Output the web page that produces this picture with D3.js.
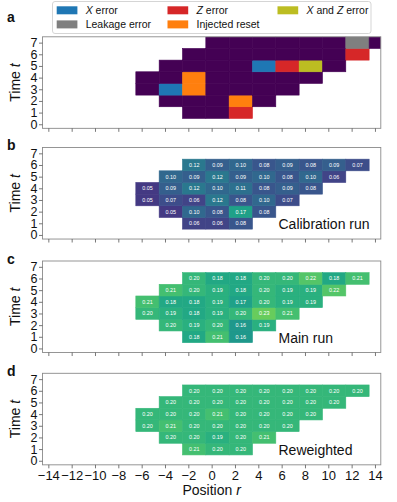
<!DOCTYPE html>
<html><head><meta charset="utf-8">
<script src="https://cdn.jsdelivr.net/npm/d3@7"></script>
<style>body{margin:0;background:#fff}svg{display:block;font-family:"Liberation Sans",Arial,sans-serif}</style>
</head><body>
<svg id="c" width="397" height="502"></svg>
<script>
// ---- data ----
const timesBase = [1, 2, 3, 4, 5, 6];
const rowStart = {1: -2, 2: -4, 3: -6, 4: -6, 5: -4, 6: -2, 7: 0};
const rowCount = {1: 3, 2: 5, 3: 7, 4: 8, 5: 8, 6: 8, 7: 8};
const calib = {
  6: [0.12, 0.09, 0.10, 0.08, 0.09, 0.08, 0.09, 0.07],
  5: [0.10, 0.09, 0.12, 0.09, 0.10, 0.08, 0.10, 0.06],
  4: [0.05, 0.09, 0.12, 0.10, 0.11, 0.08, 0.09, 0.08],
  3: [0.05, 0.07, 0.06, 0.12, 0.08, 0.10, 0.07],
  2: [0.05, 0.10, 0.08, 0.17, 0.08],
  1: [0.06, 0.06, 0.08]
};
const mainRun = {
  6: [0.20, 0.18, 0.18, 0.20, 0.20, 0.22, 0.18, 0.21],
  5: [0.21, 0.20, 0.19, 0.18, 0.20, 0.19, 0.19, 0.22],
  4: [0.21, 0.18, 0.18, 0.19, 0.17, 0.20, 0.19, 0.19],
  3: [0.20, 0.19, 0.18, 0.19, 0.20, 0.23, 0.21],
  2: [0.20, 0.19, 0.20, 0.16, 0.19],
  1: [0.18, 0.21, 0.16]
};
const reweighted = {
  6: [0.20, 0.20, 0.20, 0.20, 0.20, 0.20, 0.20, 0.20],
  5: [0.20, 0.20, 0.20, 0.20, 0.20, 0.20, 0.20, 0.20],
  4: [0.20, 0.20, 0.20, 0.21, 0.20, 0.20, 0.20, 0.20],
  3: [0.20, 0.21, 0.20, 0.20, 0.20, 0.20, 0.20],
  2: [0.20, 0.20, 0.19, 0.20, 0.21],
  1: [0.21, 0.20, 0.20]
};
const eventsA = [
  {t: 1, r: 2, type: "Z"}, {t: 2, r: 2, type: "reset"}, {t: 3, r: -4, type: "X"},
  {t: 3, r: -2, type: "reset"}, {t: 4, r: -2, type: "reset"}, {t: 5, r: 4, type: "X"},
  {t: 5, r: 6, type: "Z"}, {t: 5, r: 8, type: "XZ"}, {t: 6, r: 12, type: "Z"},
  {t: 7, r: 12, type: "leak"}
];
const xTicks = d3.range(-14, 15, 2);
const yTicks = d3.range(0, 8, 1);

// ---- styles ----
const eventColor = {X: "#1f77b4", Z: "#d62728", XZ: "#bcbd22", leak: "#7f7f7f", reset: "#ff7f0e"};
const svg = d3.select("#c");
const unit = 11.66;
const x = d3.scaleLinear().domain([-14.5, 14.5]).range([42.5, 380.8]);
const color = d3.scaleSequential(d3.interpolateViridis).domain([0, 0.3]);
const panels = [
  {key: "a", top: 36.8}, {key: "b", top: 147.5, data: calib, label: "Calibration run"},
  {key: "c", top: 261, data: mainRun, label: "Main run"},
  {key: "d", top: 373.3, data: reweighted, label: "Reweighted"}
];
const yDom = [-0.35, 7.5];
const H = (yDom[1] - yDom[0]) * unit;

function cellsFor(times, data) {
  const out = [];
  times.forEach(t => {
    for (let k = 0; k < rowCount[t]; k++) {
      out.push({t, r: rowStart[t] + 2 * k, v: data ? data[t][k] : null});
    }
  });
  return out;
}

panels.forEach((p, i) => {
  const y = d3.scaleLinear().domain(yDom).range([p.top + H, p.top]);
  const g = svg.append("g");
  const clipId = "clip" + i;
  svg.append("clipPath").attr("id", clipId).append("rect")
    .attr("x", x.range()[0]).attr("y", p.top).attr("width", x.range()[1] - x.range()[0]).attr("height", H);
  const cg = g.append("g").attr("clip-path", `url(#${clipId})`);
  let cells;
  if (!p.data) {
    cells = cellsFor([1, 2, 3, 4, 5, 6, 7], null);
    const ev = {};
    eventsA.forEach(e => ev[e.t + "_" + e.r] = e.type);
    cells.forEach(c => c.fill = ev[c.t + "_" + c.r] ? eventColor[ev[c.t + "_" + c.r]] : "#440154");
  } else {
    cells = cellsFor(timesBase, p.data);
    cells.forEach(c => c.fill = color(c.v));
  }
  cg.selectAll("rect.cell").data(cells).join("rect")
    .attr("x", d => x(d.r - 0.5)).attr("width", d => x(d.r + 1.5) - x(d.r - 0.5))
    .attr("y", d => y(d.t + 0.5)).attr("height", d => y(d.t - 0.5) - y(d.t + 0.5))
    .attr("fill", d => d.fill)
    .attr("stroke", d => d.fill).attr("stroke-width", 0.6);
  if (p.data) {
    cg.selectAll("text.v").data(cells).join("text")
      .attr("x", d => x(d.r + 0.5)).attr("y", d => y(d.t) + 1.9)
      .attr("text-anchor", "middle").attr("font-size", 5.4).attr("fill", "#fff")
      .text(d => d.v.toFixed(2));
    g.append("text").attr("x", 278.5).attr("y", y(0) - 5.5).attr("font-size", 14).attr("fill", "#111")
      .text(p.label);
  }
  // frame
  g.append("rect").attr("x", x.range()[0]).attr("y", p.top)
    .attr("width", x.range()[1] - x.range()[0]).attr("height", H)
    .attr("fill", "none").attr("stroke", "#8a8a8a").attr("stroke-width", 0.9);
  // y axis
  const ya = d3.axisLeft(y).tickValues(yTicks).tickSize(3.5).tickPadding(1.5).tickFormat(d3.format("d"));
  const yg = g.append("g").attr("transform", `translate(${x.range()[0]},0)`).call(ya);
  yg.select(".domain").remove();
  yg.selectAll("line").attr("stroke", "#555").attr("stroke-width", 0.8);
  yg.selectAll("text").attr("font-size", 12.5).attr("fill", "#111").attr("font-family", "Liberation Sans, Arial, sans-serif");
  // x axis
  const xa = d3.axisBottom(x).tickValues(xTicks).tickSize(3.5).tickPadding(2)
    .tickFormat(i === 3 ? (d => d < 0 ? "\u2212" + Math.abs(d) : String(d)) : "");
  const xg = g.append("g").attr("transform", `translate(0,${p.top + H})`).call(xa);
  xg.select(".domain").remove();
  xg.selectAll("line").attr("stroke", "#555").attr("stroke-width", 0.8);
  xg.selectAll("text").attr("font-size", 13).attr("fill", "#111").attr("font-family", "Liberation Sans, Arial, sans-serif");
  // y title
  const yt = g.append("text").attr("transform", `translate(20,${p.top + H / 2}) rotate(-90)`)
    .attr("text-anchor", "middle").attr("font-size", 14).attr("fill", "#111");
  yt.append("tspan").text("Time ");
  yt.append("tspan").attr("font-style", "italic").text("t");
  // panel letter
  g.append("text").attr("x", 7).attr("y", i === 0 ? 22 : p.top + 2.5)
    .attr("font-size", 14).attr("font-weight", "bold").attr("fill", "#111").text(p.key);
});

// x title
const xt = svg.append("text").attr("x", x(0)).attr("y", 495).attr("text-anchor", "middle")
  .attr("font-size", 14).attr("fill", "#111");
xt.append("tspan").text("Position ");
xt.append("tspan").attr("font-style", "italic").text("r");

// legend
const legendItems = [
  {type: "X", parts: [["X", true], [" error", false]], col: 0, row: 0},
  {type: "Z", parts: [["Z", true], [" error", false]], col: 1, row: 0},
  {type: "XZ", parts: [["X", true], [" and ", false], ["Z", true], [" error", false]], col: 2, row: 0},
  {type: "leak", parts: [["Leakage error", false]], col: 0, row: 1},
  {type: "reset", parts: [["Injected reset", false]], col: 1, row: 1}
];
const lg = svg.append("g");
lg.append("rect").attr("x", 52.5).attr("y", 1.5).attr("width", 318.5).attr("height", 32)
  .attr("rx", 2.5).attr("fill", "rgba(255,255,255,0.85)").attr("stroke", "#d0d0d0").attr("stroke-width", 0.9);
const colX = [56.7, 167.5, 277.5];
const rowY = [10.3, 24.4];
legendItems.forEach(it => {
  lg.append("rect").attr("x", colX[it.col]).attr("y", rowY[it.row] - 4).attr("width", 20.7).attr("height", 8)
    .attr("fill", eventColor[it.type]);
  const t = lg.append("text").attr("x", colX[it.col] + 29).attr("y", rowY[it.row] + 3.7)
    .attr("font-size", 10.5).attr("fill", "#111");
  it.parts.forEach(pt => t.append("tspan").attr("font-style", pt[1] ? "italic" : null).text(pt[0]));
});
</script>
</body></html>
